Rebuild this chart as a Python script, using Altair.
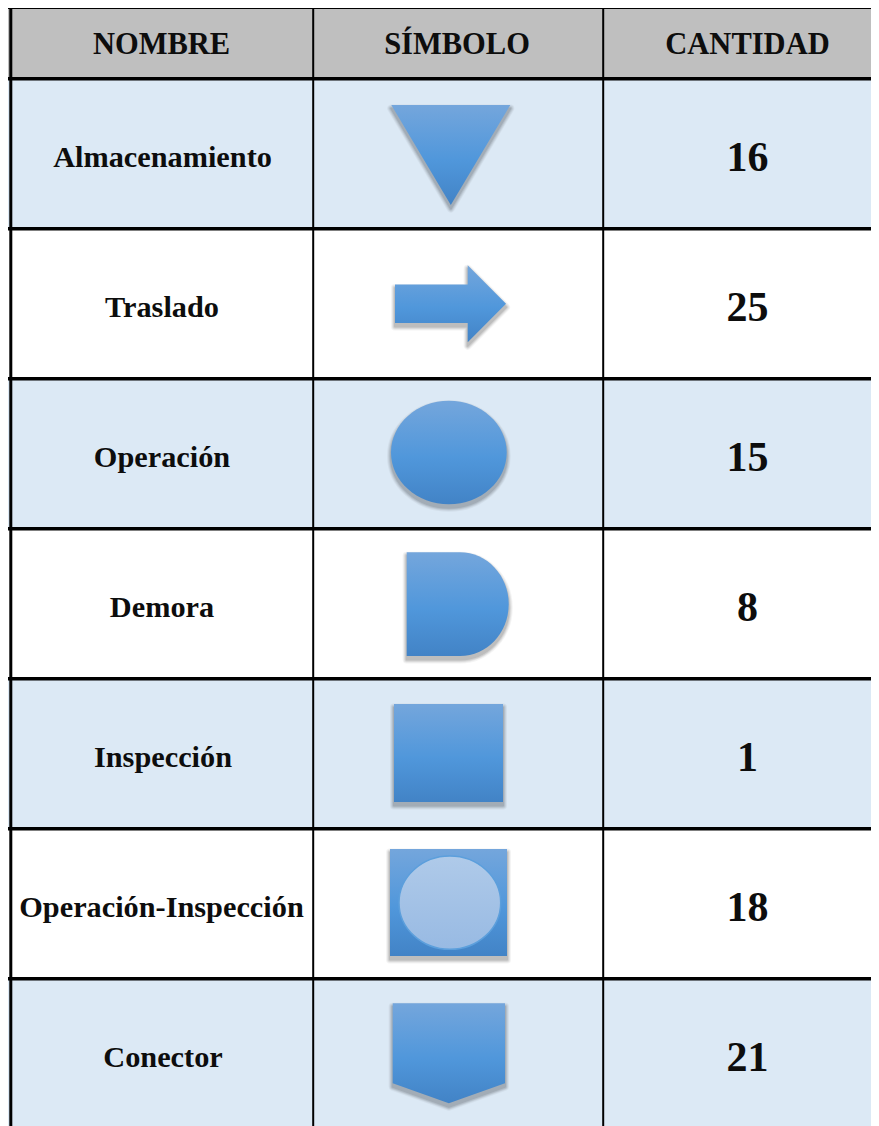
import altair as alt
import pandas as pd

# Table content
headers = ["NOMBRE", "SÍMBOLO", "CANTIDAD"]
names = ["Almacenamiento", "Traslado", "Operación", "Demora", "Inspección",
         "Operación-Inspección", "Conector"]
counts = [16, 25, 15, 8, 1, 18, 21]

# Table layout (page pixels)
X0, X1 = 8, 871
Y0, Y1 = 8, 1126
row_h = 150
hline_first = 78.7
col_lines = [313.2, 603.2]
header_x = [161.5, 457, 747.5]
name_x = [162.5, 162, 162, 162, 163, 161.5, 163]
count_x = 747.5
header_y = 44.5

# Symbols: centre, span and outline in a -1..1 box
sym_x = [450.8, 450.5, 448.85, 457.7, 448.5, 448.5, 448.85]
sym_y = [155.0, 303.7, 452.5, 604.15, 753.0, 902.5, 1053.3]
sym_span = [119.0, 111.0, 115.7, 103.7, 109.0, 117.0, 112.3]
ELLIPSE = ("M-1,0C-1,-0.494 -0.552,-0.895 0,-0.895C0.552,-0.895 1,-0.494 1,0"
           "C1,0.494 0.552,0.895 0,0.895C-0.552,0.895 -1,0.494 -1,0Z")
sym_path = [
    "M-1,-0.84L1,-0.84L0,0.84Z",
    "M-1,-0.348L0.31,-0.348L0.31,-0.694L1,0L0.31,0.694L0.31,0.348L-1,0.348Z",
    ELLIPSE,
    "M-0.984,-1L0.044,-1C0.563,-1 0.984,-0.552 0.984,0C0.984,0.552 0.563,1 0.044,1L-0.984,1Z",
    "M-1,-0.899L1,-0.899L1,0.899L-1,0.899Z",
    "M-1,-0.915L1,-0.915L1,0.915L-1,0.915Z",
    "M-1,-0.89L1,-0.89L1,0.534L0,0.89L-1,0.534Z",
]
inner_path = ("M-1,0C-1,-0.506 -0.552,-0.917 0,-0.917C0.552,-0.917 1,-0.506 1,0"
              "C1,0.506 0.552,0.917 0,0.917C-0.552,0.917 -1,0.506 -1,0Z")

xs = alt.Scale(domain=[X0, X1], nice=False, zero=False)
ys = alt.Scale(domain=[Y1, Y0], nice=False, zero=False)
X = lambda f: alt.X(f, type="quantitative", scale=xs, axis=None)
Y = lambda f: alt.Y(f, type="quantitative", scale=ys, axis=None)

# Backgrounds
bg_rows = [{"a": Y0, "b": hline_first, "c": "#BFBFBF"}]
for i in range(len(names)):
    bg_rows.append({"a": hline_first + i * row_h,
                    "b": min(hline_first + (i + 1) * row_h, Y1),
                    "c": "#DCE9F5" if i % 2 == 0 else "#FFFFFF"})
bg = alt.Chart(pd.DataFrame(bg_rows)).mark_rect(strokeWidth=0).encode(
    x=alt.value(0), x2=alt.value(X1 - X0),
    y=Y("a"), y2="b", color=alt.Color("c:N", scale=None))

# Grid lines
h_df = pd.DataFrame({"y": [hline_first + i * row_h for i in range(len(names))]})
hl = alt.Chart(h_df).mark_rule(color="#000000", strokeWidth=3.6).encode(
    x=alt.value(0), x2=alt.value(X1 - X0), y=Y("y"))
top = alt.Chart(pd.DataFrame({"y": [Y0]})).mark_rule(color="#000000", strokeWidth=2).encode(
    x=alt.value(0), x2=alt.value(X1 - X0), y=Y("y"))
v_df = pd.DataFrame({"x": col_lines, "a": [Y0] * 2, "b": [Y1] * 2})
vl = alt.Chart(v_df).mark_rule(color="#000000", strokeWidth=2).encode(
    x=X("x"), y=Y("a"), y2="b")
left = alt.Chart(pd.DataFrame({"x": [10.8], "a": [Y0], "b": [Y1]})).mark_rule(
    color="#000000", strokeWidth=3).encode(x=X("x"), y=Y("a"), y2="b")

# Text
FONT = "Liberation Serif"
hdr = alt.Chart(pd.DataFrame({"t": headers, "x": header_x, "y": [header_y] * 3})).mark_text(
    font=FONT, fontWeight="bold", fontSize=30.5, color="#0D0D0D", baseline="middle", align="center"
).encode(x=X("x"), y=Y("y"), text="t:N")
name_df = pd.DataFrame({"t": names, "x": name_x,
                        "y": [hline_first + 79.5 + i * row_h for i in range(len(names))]})
name_txt = alt.Chart(name_df).mark_text(
    font=FONT, fontWeight="bold", fontSize=30.3, color="#0D0D0D", baseline="middle", align="center"
).encode(x=X("x"), y=Y("y"), text="t:N")
cnt_df = pd.DataFrame({"t": [str(c) for c in counts], "x": [count_x] * len(counts),
                       "y": [hline_first + 79.5 + i * row_h for i in range(len(counts))]})
cnt_txt = alt.Chart(cnt_df).mark_text(
    font=FONT, fontWeight="bold", fontSize=42, color="#0D0D0D", baseline="middle", align="center"
).encode(x=X("x"), y=Y("y"), text="t:N")

# Symbols
sym_df = pd.DataFrame({"x": sym_x, "y": sym_y, "ys": [v + 3.5 for v in sym_y],
                       "size": [s * s for s in sym_span], "p": sym_path})
def shadow(width, op):
    return alt.Chart(sym_df).mark_point(
        filled=True, fill="#000000", stroke="#000000", strokeWidth=width,
        strokeJoin="round", opacity=op
    ).encode(x=X("x"), y=Y("ys"),
             size=alt.Size("size:Q", scale=None),
             shape=alt.Shape("p:N", scale=None))

grad = alt.Gradient(gradient="linear", x1=0, y1=0, x2=0, y2=1, stops=[
    alt.GradientStop(offset=0, color="#74A6DC"),
    alt.GradientStop(offset=0.55, color="#5097DB"),
    alt.GradientStop(offset=1, color="#4283C6"),
])
sym = alt.Chart(sym_df).mark_point(filled=True, fill=grad, opacity=1, strokeWidth=0).encode(
    x=X("x"), y=Y("y"), size=alt.Size("size:Q", scale=None),
    shape=alt.Shape("p:N", scale=None))

inner_df = pd.DataFrame({"x": [449.85], "y": [902.65], "size": [101.7 ** 2], "p": [inner_path]})
grad2 = alt.Gradient(gradient="linear", x1=0, y1=0, x2=0, y2=1, stops=[
    alt.GradientStop(offset=0, color="#AFCAE9"),
    alt.GradientStop(offset=1, color="#98BAE3"),
])
inner = alt.Chart(inner_df).mark_point(
    filled=True, fill=grad2, stroke="#5C9FDC", strokeWidth=1.5, opacity=1
).encode(x=X("x"), y=Y("y"), size=alt.Size("size:Q", scale=None),
         shape=alt.Shape("p:N", scale=None))

chart = alt.layer(
    bg, shadow(8, 0.04), shadow(6, 0.06), shadow(4, 0.08), shadow(2, 0.09), sym, inner,
    hl, top, vl, left, hdr, name_txt, cnt_txt
).properties(width=X1 - X0, height=Y1 - Y0, padding=0, autosize=alt.AutoSizeParams(type="none"),
             background="#FFFFFF"
).configure_view(strokeWidth=0)

chart.save("out.html", embed_options={"renderer": "svg", "actions": False})
